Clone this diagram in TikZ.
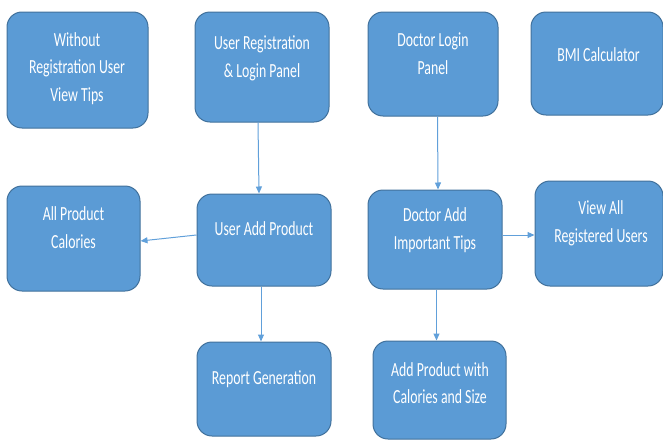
\documentclass[tikz,border=0pt]{standalone}
\usepackage{fontspec}
\setmainfont{Carlito}
\definecolor{boxblue}{RGB}{91,155,213}
\definecolor{boxedge}{RGB}{65,113,156}
\definecolor{linkblue}{RGB}{97,160,218}
\usetikzlibrary{arrows.meta,positioning}

\begin{document}
\begin{tikzpicture}[x=1pt, y=-1pt,
    panel/.style={draw=boxedge, line width=1pt, fill=boxblue, rounded corners=15pt, inner sep=0pt},
    caption/.style={text=white, align=center, font=\fontsize{13.8}{19}\selectfont, yscale=1.45, transform shape},
    link/.style={draw=linkblue, line width=1pt, -{Triangle[length=7pt, width=6pt]}}]
    \useasboundingbox (0,0) rectangle (663,439);

    % Top row
    \node[panel, minimum width=141pt, minimum height=116pt] (tips) at (77.5,70) {};
    \node[caption] (tips-t) at (77,68.5) {Without\\Registration User\\View Tips};
    \node[panel, minimum width=134pt, minimum height=110pt] (ureg) at (262,67) {};
    \node[caption] (ureg-t) at (262,58.5) {User Registration\\\& Login Panel};
    \node[panel, minimum width=130pt, minimum height=104pt] (dlog) at (433,64) {};
    \node[caption] (dlog-t) at (433,53.5) {Doctor Login\\Panel};
    \node[panel, minimum width=132pt, minimum height=103pt] (bmi) at (597,63.5) {};
    \node[caption] (bmi-t) at (598.5,55) {BMI Calculator};

    % Middle row
    \node[panel, minimum width=133pt, minimum height=105pt] (allp) at (73.5,238.5) {};
    \node[caption] (allp-t) at (73.5,227.5) {All Product\\Calories};
    \node[panel, minimum width=134pt, minimum height=92pt] (uadd) at (264,240) {};
    \node[caption] (uadd-t) at (264,229) {User Add Product};
    \node[panel, minimum width=134pt, minimum height=99pt] (dadd) at (435,239.5) {};
    \node[caption] (dadd-t) at (435,230) {Doctor Add\\Important Tips};
    \node[panel, minimum width=128pt, minimum height=105pt] (view) at (599,233.5) {};
    \node[caption] (view-t) at (601,223.5) {View All\\Registered Users};

    % Bottom row
    \node[panel, minimum width=134pt, minimum height=94pt] (rep) at (264,389) {};
    \node[caption] (rep-t) at (264,379) {Report Generation};
    \node[panel, minimum width=133pt, minimum height=98pt] (addp) at (439.5,390) {};
    \node[caption] (addp-t) at (440,383) {Add Product with\\Calories and Size};

    % Links
    \draw[link] ([xshift=-4pt]ureg.south) -- ([xshift=-5pt]uadd.north);
    \draw[link] ([yshift=5pt]uadd.west) -- ([yshift=-2.5pt]allp.east);
    \draw[link] ([xshift=-3pt]uadd.south) -- ([xshift=-3pt]rep.north);
    \draw[link] ([xshift=4.5pt]dlog.south) -- ([xshift=3pt]dadd.north);
    \draw[link] ([yshift=4.5pt]dadd.east) -- ([yshift=-1.5pt]view.west);
    \draw[link] ([xshift=1.5pt]dadd.south) -- ([xshift=-3pt]addp.north);
\end{tikzpicture}
\end{document}
